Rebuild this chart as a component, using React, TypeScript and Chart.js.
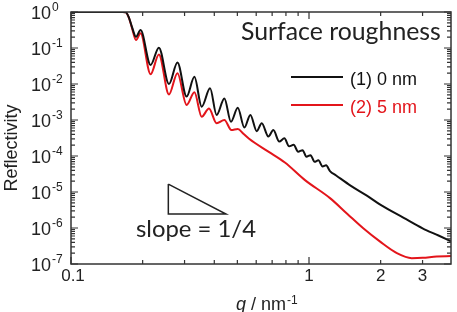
import React, { useEffect, useRef } from 'react';
import { Chart, registerables } from 'chart.js';

Chart.register(...registerables);

// q in nm^-1, reflectivity values
const qBlack = [0.1, 0.15, 0.165, 0.17, 0.175, 0.18, 0.1876, 0.196, 0.216, 0.234, 0.258, 0.28, 0.306, 0.33, 0.354, 0.384, 0.409, 0.441, 0.47, 0.502, 0.535, 0.567, 0.603, 0.633, 0.675, 0.708, 0.75, 0.788, 0.825, 0.862, 0.9, 0.94, 0.975, 1.015, 1.055, 1.095, 1.14, 1.18, 1.225, 1.3, 1.5, 1.75, 2.0, 2.5, 3.0, 3.5, 3.95];
const rBlack = [1, 1, 1, 0.98, 0.71, 0.4, 0.204, 0.316, 0.0339, 0.102, 0.01, 0.0398, 0.00447, 0.0158, 0.00234, 0.00759, 0.00138, 0.00398, 8.9e-4, 2.19e-3, 6.17e-4, 1.38e-3, 4.9e-4, 8.13e-4, 3.47e-4, 5.25e-4, 2.51e-4, 3.09e-4, 1.86e-4, 2.04e-4, 1.32e-4, 1.45e-4, 9.55e-5, 1.05e-4, 6.92e-5, 7.59e-5, 5.13e-5, 5.5e-5, 3.8e-5, 2.88e-5, 1.48e-5, 7.94e-6, 4.37e-6, 1.91e-6, 9.8e-7, 6.2e-7, 4.27e-7];

const qRed = [0.1, 0.15, 0.165, 0.17, 0.175, 0.18, 0.1876, 0.196, 0.216, 0.234, 0.258, 0.28, 0.306, 0.33, 0.354, 0.38, 0.409, 0.441, 0.472, 0.502, 0.53, 0.56, 0.675, 0.792, 0.962, 1.225, 1.45, 1.69, 1.99, 2.34, 2.7, 3.0, 3.44, 3.95];
const rRed = [1, 1, 1, 0.98, 0.7, 0.38, 0.166, 0.257, 0.0186, 0.0661, 0.00513, 0.02, 0.00263, 0.00589, 0.00123, 0.00209, 8.13e-4, 1.0e-3, 5.25e-4, 5.62e-4, 4.17e-4, 3.02e-4, 1.32e-4, 6.6e-5, 2.14e-5, 6.76e-6, 2.45e-6, 9.8e-7, 4.17e-7, 2.0e-7, 1.45e-7, 1.48e-7, 1.62e-7, 1.66e-7];

const triQ = [0.2564, 0.2564, 0.448, 0.2564];
const triR = [1.66e-5, 2.45e-6, 2.45e-6, 1.66e-5];

const xMajorTicks = [0.1, 1];
const xMinorTicks = [0.2, 0.3, 0.4, 0.5, 0.6, 0.7, 0.8, 0.9, 2, 3];
const xTickValues = [0.1, 1, 2, 3];
const xTickLabels = ['0.1', '1', '2', '3'];
const yExponents = [0, -1, -2, -3, -4, -5, -6, -7];

const seriesLabels = ['(1) 0 nm', '(2) 5 nm'];
const seriesColors = ['#111111', '#e3151b'];
const titleText = 'Surface roughness';
const slopeText = 'slope = 1/4';
const yTitle = 'Reflectivity';

const AXIS_FONT = "'Liberation Sans', Arial, sans-serif";
const NOTE_FONT = "Lato, 'Open Sans', sans-serif";

function fitFont(ctx: CanvasRenderingContext2D, text: string, family: string, width: number) {
  ctx.font = `100px ${family}`;
  const w = ctx.measureText(text).width;
  return (100 * width) / w;
}

const decorPlugin = {
  id: 'decor',
  afterDraw(chart: any) {
    const { ctx, chartArea, scales } = chart;
    const { left, right, top, bottom } = chartArea;
    const xs = scales.x;
    const ys = scales.y;
    ctx.save();
    ctx.strokeStyle = '#333';
    ctx.lineWidth = 1.5;
    ctx.strokeRect(left, top, right - left, bottom - top);

    ctx.lineWidth = 1.2;
    const vt = (v: number, len: number) => {
      const px = xs.getPixelForValue(v);
      ctx.beginPath();
      ctx.moveTo(px, bottom);
      ctx.lineTo(px, bottom - len);
      ctx.moveTo(px, top);
      ctx.lineTo(px, top + len);
      ctx.stroke();
    };
    xMajorTicks.forEach((v) => vt(v, 7));
    xMinorTicks.forEach((v) => vt(v, 4));
    const ht = (v: number, len: number) => {
      const py = ys.getPixelForValue(v);
      ctx.beginPath();
      ctx.moveTo(left, py);
      ctx.lineTo(left + len, py);
      ctx.moveTo(right, py);
      ctx.lineTo(right - len, py);
      ctx.stroke();
    };
    yExponents.forEach((e) => {
      ht(Math.pow(10, e), 7);
      if (e > -7) {
        for (let k = 2; k <= 9; k++) ht(k * Math.pow(10, e - 1), 4);
      }
    });

    // tick labels
    ctx.fillStyle = '#222';
    ctx.textBaseline = 'alphabetic';
    ctx.font = `17px ${AXIS_FONT}`;
    ctx.textAlign = 'center';
    xTickValues.forEach((v, i) => {
      ctx.fillText(xTickLabels[i], xs.getPixelForValue(v) + (i === 0 ? 2 : 0), bottom + 17);
    });
    yExponents.forEach((e) => {
      const py = ys.getPixelForValue(Math.pow(10, e));
      ctx.textAlign = 'left';
      ctx.font = `18px ${AXIS_FONT}`;
      ctx.fillText('10', 31, py + 7);
      const w = ctx.measureText('10').width;
      ctx.font = `12px ${AXIS_FONT}`;
      ctx.fillText(e === 0 ? '0' : '-' + String(-e), 31 + w + 1, py - 1);
    });

    // axis titles
    ctx.save();
    ctx.translate(17, (top + bottom) / 2 + 10);
    ctx.rotate(-Math.PI / 2);
    ctx.textAlign = 'center';
    ctx.font = `18px ${AXIS_FONT}`;
    ctx.fillText(yTitle, 0, 0);
    ctx.restore();

    ctx.textAlign = 'left';
    let x0 = 236;
    ctx.font = `italic 18px ${AXIS_FONT}`;
    ctx.fillText('q', x0, 310);
    x0 += ctx.measureText('q').width;
    ctx.font = `18px ${AXIS_FONT}`;
    ctx.fillText(' / nm', x0, 310);
    x0 += ctx.measureText(' / nm').width;
    ctx.font = `12px ${AXIS_FONT}`;
    ctx.fillText('-1', x0 + 1, 304);

    // legend
    ctx.lineWidth = 2;
    seriesLabels.forEach((lab, i) => {
      const yy = 77 + i * 28;
      ctx.strokeStyle = seriesColors[i];
      ctx.beginPath();
      ctx.moveTo(291, yy);
      ctx.lineTo(343, yy);
      ctx.stroke();
      ctx.fillStyle = seriesColors[i];
      ctx.font = `18px ${AXIS_FONT}`;
      ctx.textAlign = 'left';
      ctx.fillText(lab, 350, yy + 8);
    });

    // notes
    ctx.fillStyle = '#222';
    const ts = fitFont(ctx, titleText, NOTE_FONT, 200);
    ctx.font = `${ts}px ${NOTE_FONT}`;
    ctx.fillText(titleText, 241, 40);
    const ss = fitFont(ctx, slopeText, NOTE_FONT, 120);
    ctx.font = `${ss}px ${NOTE_FONT}`;
    ctx.fillText(slopeText, 136, 237);
    ctx.restore();
  },
};

export default function App() {
  const ref = useRef<HTMLCanvasElement | null>(null);
  useEffect(() => {
    if (!ref.current) return;
    const mk = (qs: number[], rs: number[]) => qs.map((q, i) => ({ x: q, y: rs[i] }));
    const chart = new Chart(ref.current, {
      type: 'line',
      data: {
        datasets: [
          {
            label: seriesLabels[0],
            data: mk(qBlack, rBlack),
            borderColor: seriesColors[0],
            borderWidth: 2,
            pointRadius: 0,
            cubicInterpolationMode: 'monotone',
          },
          {
            label: seriesLabels[1],
            data: mk(qRed, rRed),
            borderColor: seriesColors[1],
            borderWidth: 2,
            pointRadius: 0,
            cubicInterpolationMode: 'monotone',
          },
          {
            label: 'triangle',
            data: mk(triQ, triR),
            borderColor: '#222',
            borderWidth: 1.5,
            pointRadius: 0,
            tension: 0,
          },
        ],
      } as any,
      options: {
        animation: false,
        responsive: false,
        layout: { padding: { left: 71, top: 12, right: 6, bottom: 48 } },
        scales: {
          x: { type: 'logarithmic', min: 0.1, max: 3.95, display: false },
          y: { type: 'logarithmic', min: 1e-7, max: 1, display: false },
        },
        plugins: { legend: { display: false }, tooltip: { enabled: false } },
      } as any,
      plugins: [decorPlugin],
    });
    return () => chart.destroy();
  }, []);
  return (
    <div style={{ position: 'absolute', left: 0, top: 0, width: 457, height: 312, background: '#fff' }}>
      <canvas ref={ref} width={457} height={312} />
    </div>
  );
}
